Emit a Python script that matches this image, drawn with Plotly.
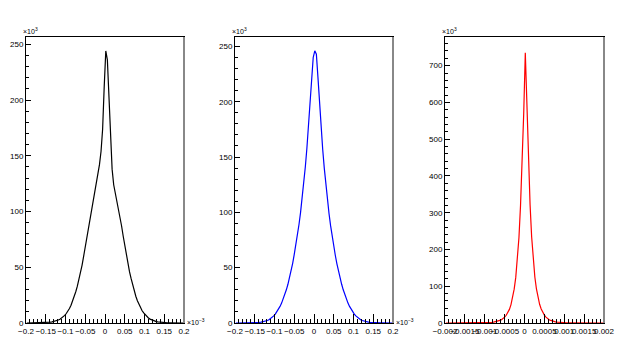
import numpy as np
import plotly.graph_objects as go

# three 1D histograms, 100 bins each
# pads 1 and 2: x in units of 1e-3, counts in units of 1e3
x_range_small = (-0.2, 0.2)
# pad 3: x in plain units, counts in units of 1e3
x_range_wide = (-0.002, 0.002)
n_bins = 100

black_counts = [
    0.01, 0.015, 0.02, 0.025, 0.035, 0.045, 0.06, 0.08, 0.10, 0.14,
    0.18, 0.24, 0.32, 0.42, 0.55, 0.72, 0.95, 1.25, 1.6, 2.1,
    2.7, 3.4, 4.3, 5.4, 6.8, 8.5, 10.5, 13, 16, 19.5,
    23.5, 28, 33, 39, 45, 52, 60, 68, 76, 84,
    92, 100, 108, 116, 124, 132, 142, 154, 174, 212,
    244, 236, 200, 162, 138, 124, 117, 111, 104, 96,
    87, 78, 69, 61, 53, 46, 40, 34, 29, 24,
    20, 16.5, 13.5, 11, 9, 7.2, 5.7, 4.5, 3.5, 2.8,
    2.2, 1.7, 1.3, 1.0, 0.78, 0.6, 0.46, 0.35, 0.27, 0.2,
    0.15, 0.11, 0.085, 0.065, 0.05, 0.04, 0.03, 0.022, 0.016, 0.012,
]

blue_counts = [
    0.005, 0.007, 0.01, 0.013, 0.018, 0.025, 0.035, 0.05, 0.065, 0.09,
    0.12, 0.16, 0.22, 0.3, 0.4, 0.55, 0.75, 1.0, 1.3, 1.75,
    2.3, 3, 3.9, 5, 6.4, 8, 10, 12.3, 15, 18,
    21.5, 25.5, 30, 35, 41, 47, 54, 62, 70, 79,
    89, 100, 112, 126, 141, 158, 178, 200, 225, 240,
    246, 243, 222, 198, 177, 157, 140, 125, 111, 99,
    88, 78, 69, 61, 53.5, 46.5, 40.5, 35, 30, 25.5,
    21.5, 18, 15, 12.3, 10, 8, 6.4, 5, 3.9, 3,
    2.3, 1.75, 1.3, 1.0, 0.75, 0.55, 0.4, 0.3, 0.22, 0.16,
    0.12, 0.09, 0.065, 0.05, 0.035, 0.025, 0.018, 0.013, 0.01, 0.007,
]

red_counts = [
    0.002, 0.002, 0.003, 0.004, 0.005, 0.006, 0.008, 0.01, 0.012, 0.015,
    0.02, 0.025, 0.03, 0.04, 0.05, 0.065, 0.08, 0.1, 0.13, 0.17,
    0.21, 0.27, 0.34, 0.43, 0.55, 0.7, 0.9, 1.2, 1.5, 1.9,
    2.5, 3.2, 4.1, 5.3, 7, 9, 12, 16, 21, 28,
    37, 50, 68, 92, 124, 168, 232, 320, 432, 570,
    735, 572, 435, 322, 234, 170, 125, 93, 69, 51,
    38, 28.5, 21.5, 16, 12, 9, 7, 5.3, 4.1, 3.2,
    2.5, 1.9, 1.5, 1.2, 0.9, 0.7, 0.55, 0.43, 0.34, 0.27,
    0.21, 0.17, 0.13, 0.1, 0.08, 0.065, 0.05, 0.04, 0.03, 0.025,
    0.02, 0.015, 0.012, 0.01, 0.008, 0.006, 0.005, 0.004, 0.003, 0.002,
]

small_ticks = [-0.2, -0.15, -0.1, -0.05, 0, 0.05, 0.1, 0.15, 0.2]
small_tick_text = ["−0.2", "−0.15", "−0.1", "−0.05", "0", "0.05", "0.1", "0.15", "0.2"]
wide_ticks = [-0.002, -0.0015, -0.001, -0.0005, 0, 0.0005, 0.001, 0.0015, 0.002]
wide_tick_text = ["−0.002", "−0.0015", "−0.001", "−0.0005", "0", "0.0005", "0.001", "0.0015", "0.002"]

# the page body has an 8px margin, so the figure is shrunk and shifted by it
OFF = 8
W, H = 630 - OFF, 362 - OFF
FONT = "Liberation Sans, Arial, sans-serif"

# frame boxes in window pixels: (left, right); top/bottom shared
pads = [(26, 184), (235, 393), (445, 604)]
frame_top, frame_bottom = 37, 323


def px(xw):
    return (xw - OFF) / W


def py(yw):
    return 1 - (yw - OFF) / H


def bin_centers(lo, hi):
    edges = np.linspace(lo, hi, n_bins + 1)
    return 0.5 * (edges[:-1] + edges[1:])


fig = go.Figure()

hists = [
    (black_counts, x_range_small, "#000000", 256.5, 50, 10, 0.01, small_ticks, small_tick_text),
    (blue_counts, x_range_small, "#0000ff", 258.5, 50, 10, 0.01, small_ticks, small_tick_text),
    (red_counts, x_range_wide, "#ff0000", 778, 100, 20, 0.0001, wide_ticks, wide_tick_text),
]

ydom = [py(frame_bottom), py(frame_top)]

for i, (counts, (lo, hi), color, ymax, ydt, yminor, xminor, tv, tt) in enumerate(hists):
    n = "" if i == 0 else str(i + 1)
    fig.add_trace(go.Scatter(
        x=bin_centers(lo, hi), y=counts, mode="lines",
        line=dict(color=color, width=1.2),
        xaxis="x" + n, yaxis="y" + n, showlegend=False, hoverinfo="skip",
    ))
    left, right = pads[i]
    fig.update_layout({
        "xaxis" + n: dict(
            domain=[px(left), px(right)], range=[lo, hi], anchor="y" + n,
            tickvals=tv, ticktext=tt, tickangle=0, automargin=False,
            ticks="inside", ticklen=9, tickwidth=1, tickcolor="black",
            minor=dict(dtick=xminor, tick0=lo, ticks="inside", ticklen=4.5,
                       tickwidth=1, tickcolor="black"),
            showline=True, linecolor="black", linewidth=1, mirror=True,
            showgrid=False, zeroline=False,
            tickfont=dict(family=FONT, size=8, color="black"),
        ),
        "yaxis" + n: dict(
            domain=ydom, range=[0, ymax], anchor="x" + n, automargin=False,
            dtick=ydt, tick0=0, ticks="inside", ticklen=5, tickwidth=1,
            tickcolor="black",
            minor=dict(dtick=yminor, tick0=0, ticks="inside", ticklen=2.5,
                       tickwidth=1, tickcolor="black"),
            showline=True, linecolor="black", linewidth=1, mirror=True,
            showgrid=False, zeroline=False,
            tickfont=dict(family=FONT, size=8, color="black"),
        ),
    })
    # ROOT-style grey right edge of the frame
    fig.add_shape(type="line", xref="x" + n + " domain", yref="y" + n + " domain",
                  x0=1, x1=1, y0=0, y1=1, line=dict(color="#888888", width=2))
    # y exponent label
    fig.add_annotation(text="×10<sup>3</sup>", xref="paper", yref="paper",
                       x=px(left - 5), y=py(frame_top),
                       xanchor="left", yanchor="bottom", showarrow=False,
                       font=dict(family=FONT, size=7, color="black"))
    if i < 2:
        fig.add_annotation(text="×10<sup>−3</sup>", xref="paper", yref="paper",
                           x=px(right + 1), y=py(frame_bottom - 1),
                           xanchor="left", yanchor="middle", showarrow=False,
                           font=dict(family=FONT, size=7, color="black"))

fig.update_layout(
    width=W, height=H, autosize=False,
    margin=dict(l=0, r=0, t=0, b=0),
    paper_bgcolor="white", plot_bgcolor="white",
    font=dict(family=FONT, size=8, color="black"),
)

fig.write_html("out.html")
